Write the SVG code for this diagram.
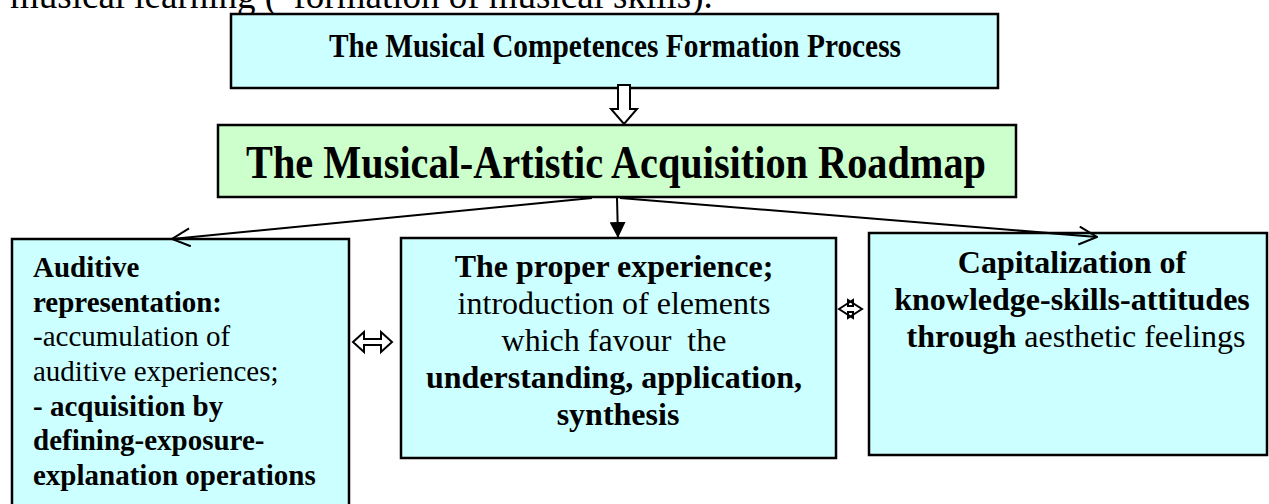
<svg xmlns="http://www.w3.org/2000/svg" width="1269" height="504" viewBox="0 0 1269 504">
<style>
  .box{fill:#CCFFFF;stroke:#000;stroke-width:2.5}
  .gbox{fill:#CCFFCC;stroke:#000;stroke-width:2.5}
  .t{font-family:"Liberation Serif","Times New Roman",serif;fill:#000}
  .b{font-weight:bold}
  .c{text-anchor:middle}
  .conn{stroke:#000;stroke-width:2;fill:none}
</style>
<defs>
  <marker id="open" viewBox="0 0 20 20" refX="19" refY="10" markerWidth="20" markerHeight="20" markerUnits="userSpaceOnUse" orient="auto">
    <path d="M1,1 L19,10 L1,19" fill="none" stroke="#000" stroke-width="2"/>
  </marker>
  <marker id="filled" viewBox="0 0 16 16" refX="16" refY="8" markerWidth="16" markerHeight="16" markerUnits="userSpaceOnUse" orient="auto">
    <path d="M0,0 L16,8 L0,16 Z" fill="#000"/>
  </marker>
</defs>

<text class="t" x="10" y="8" font-size="37">musical learning (“formation of musical skills).</text>

<g id="node-process">
  <rect class="box" x="231" y="14" width="767" height="74"/>
  <text class="t b c" x="615" y="57" font-size="34" textLength="572" lengthAdjust="spacingAndGlyphs">The Musical Competences Formation Process</text>
</g>

<g id="node-roadmap">
  <rect class="gbox" x="218" y="125" width="798" height="72"/>
  <text class="t b c" x="616" y="178" font-size="46" textLength="740" lengthAdjust="spacingAndGlyphs">The Musical-Artistic Acquisition Roadmap</text>
</g>

<g id="node-auditive">
  <rect class="box" x="12" y="239" width="337" height="290"/>
  <text class="t" font-size="29">
    <tspan class="b" x="33" y="277">Auditive</tspan>
    <tspan class="b" x="33" y="312">representation:</tspan>
    <tspan x="33" y="346">-accumulation of</tspan>
    <tspan x="33" y="381">auditive experiences;</tspan>
    <tspan class="b" x="33" y="416">- acquisition by</tspan>
    <tspan class="b" x="33" y="450">defining-exposure-</tspan>
    <tspan class="b" x="33" y="485">explanation operations</tspan>
  </text>
</g>

<g id="node-experience">
  <rect class="box" x="401" y="238" width="435" height="220"/>
  <text class="t c" font-size="32">
    <tspan class="b" x="618" y="277">The proper experience;</tspan>
    <tspan x="618" y="314">introduction of elements</tspan>
    <tspan x="618" y="351">which favour&#160; the</tspan>
    <tspan class="b" x="618" y="388">understanding, application,</tspan>
    <tspan class="b" x="618" y="425">synthesis</tspan>
  </text>
</g>

<g id="node-capitalization">
  <rect class="box" x="869" y="233" width="398" height="222"/>
  <text class="t c" font-size="32">
    <tspan class="b" x="1076" y="273">Capitalization of</tspan>
    <tspan class="b" x="1076" y="310">knowledge-skills-attitudes</tspan>
    <tspan x="1076" y="347"><tspan class="b">through</tspan> aesthetic feelings</tspan>
  </text>
</g>

<g id="connectors">
  <path d="M618,85 L630,85 L630,109 L637,109 L624,124 L611,109 L618,109 Z" fill="#fff" stroke="#000" stroke-width="2"/>
  <line class="conn" x1="592" y1="198" x2="172" y2="239" marker-end="url(#open)"/>
  <line class="conn" x1="617" y1="198" x2="618" y2="238" marker-end="url(#filled)"/>
  <line class="conn" x1="620" y1="198" x2="1097" y2="237" marker-end="url(#open)"/>
  <path d="M353,342 L364,332 L364,339 L381,339 L381,332 L392,342 L381,352 L381,345 L364,345 L364,352 Z" fill="#fff" stroke="#000" stroke-width="2"/>
  <path d="M839,309 L853,300 L853,306 L848,306 L848,300 L862,309 L848,318 L848,312 L853,312 L853,318 Z" fill="#fff" stroke="#000" stroke-width="2"/>
</g>
</svg>
